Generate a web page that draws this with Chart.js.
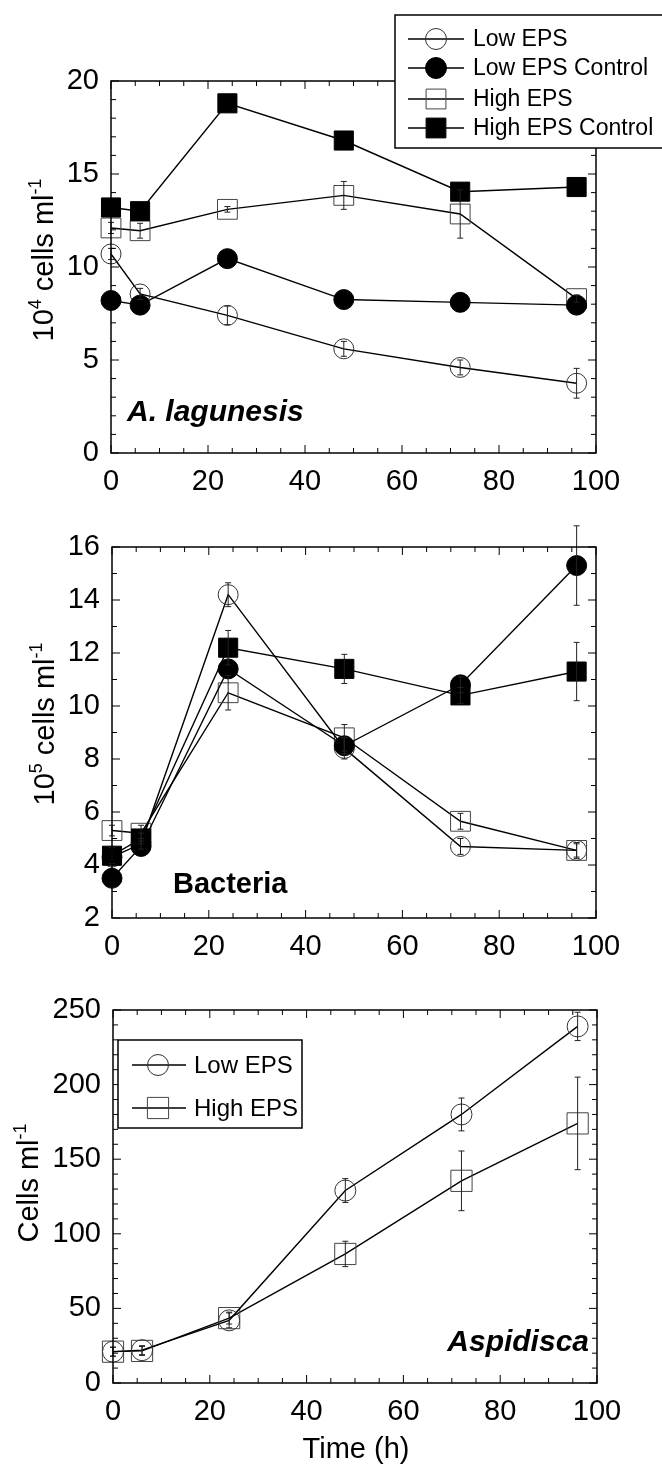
<!DOCTYPE html>
<html>
<head>
<meta charset="utf-8">
<script src="https://cdn.jsdelivr.net/npm/chart.js@4.4.1/dist/chart.umd.min.js"></script>
<style>
  html, body { margin: 0; padding: 0; background: #fff; }
  .panel { position: absolute; left: 0; width: 662px; }
</style>
</head>
<body>
<div class="panel" style="top:0"><canvas id="c1" width="662" height="500"></canvas></div>
<div class="panel" style="top:500px"><canvas id="c2" width="662" height="460"></canvas></div>
<div class="panel" style="top:960px"><canvas id="c3" width="662" height="505"></canvas></div>
<script>
// sampling times (h), shared by all three panels
const hours = [0, 6, 24, 48, 72, 96]

// A. lagunesis, 10^4 cells ml-1
const lagLowEps        = [10.7, 8.55, 7.4, 5.6, 4.6, 3.75]
const lagLowEpsErr     = [0.3, 0.3, 0.5, 0.4, 0.4, 0.8]
const lagLowEpsCtrl    = [8.2, 7.95, 10.45, 8.25, 8.1, 7.95]
const lagHighEps       = [12.1, 11.95, 13.1, 13.85, 12.85, 8.3]
const lagHighEpsErr    = [0.3, 0.4, 0.15, 0.75, 1.3, 0.2]
const lagHighEpsCtrl   = [13.2, 13.0, 18.8, 16.8, 14.05, 14.3]

// Bacteria, 10^5 cells ml-1
const bacLowEps        = [4.3, 4.8, 14.2, 8.4, 4.7, 4.55]
const bacLowEpsErr     = [null, 0.2, 0.45, 0.4, 0.3, 0.3]
const bacLowEpsCtrl    = [3.5, 4.7, 11.4, 8.5, 10.8, 15.3]
const bacLowEpsCtrlErr = [null, null, null, 0.3, 0.3, 1.5]
const bacHighEps       = [5.3, 5.2, 10.5, 8.8, 5.65, 4.55]
const bacHighEpsErr    = [0.2, 0.3, 0.65, 0.5, 0.3, 0.25]
const bacHighEpsCtrl   = [4.35, 5.0, 12.2, 11.4, 10.4, 11.3]
const bacHighEpsCtrlErr = [0.3, 0.2, 0.65, 0.55, 0.3, 1.1]

// Aspidisca, cells ml-1
const aspLowEps        = [21, 22, 42, 129, 180, 239]
const aspLowEpsErr     = [3, 3, 5, 8, 11, 9.5]
const aspHighEps       = [21, 21.5, 43.5, 86.5, 135.5, 174]
const aspHighEpsErr    = [3, 3, 4, 8.5, 20, 31]

const FONT = "'Liberation Sans', Arial, Helvetica, sans-serif"
Chart.defaults.font.family = FONT
Chart.defaults.color = '#000'

function xy(vals) { return vals.map((v, i) => ({ x: hours[i], y: v })) }

// marker styles
function openCircle(label, vals, err, r = 10) {
  return { label, data: xy(vals), errorBars: err, pointStyle: 'circle', pointRadius: r,
    pointBackgroundColor: 'rgba(0,0,0,0)', pointBorderColor: '#333', pointBorderWidth: 1 }
}
function fillCircle(label, vals, err, r = 10) {
  return { label, data: xy(vals), errorBars: err, pointStyle: 'circle', pointRadius: r,
    pointBackgroundColor: '#000', pointBorderColor: '#000', pointBorderWidth: 1 }
}
function openSquare(label, vals, err, r = 14) {
  return { label, data: xy(vals), errorBars: err, pointStyle: 'rect', pointRadius: r,
    pointBackgroundColor: 'rgba(0,0,0,0)', pointBorderColor: '#444', pointBorderWidth: 1 }
}
function fillSquare(label, vals, err, r = 13.5) {
  return { label, data: xy(vals), errorBars: err, pointStyle: 'rect', pointRadius: r,
    pointBackgroundColor: '#000', pointBorderColor: '#000', pointBorderWidth: 1 }
}

function line(ctx, x1, y1, x2, y2) {
  ctx.beginPath(); ctx.moveTo(x1, y1); ctx.lineTo(x2, y2); ctx.stroke()
}

// rotated y title with superscripts
function drawYTitle(ctx, t) {
  const big = `${t.size}px ${FONT}`
  const small = `${Math.round(t.size * 0.62)}px ${FONT}`
  let total = 0
  t.parts.forEach(p => { ctx.font = p.sup ? small : big; total += ctx.measureText(p.text).width })
  ctx.save()
  ctx.translate(t.x, t.y)
  ctx.rotate(-Math.PI / 2)
  ctx.fillStyle = '#000'
  ctx.textAlign = 'left'
  ctx.textBaseline = 'alphabetic'
  let pos = -total / 2
  t.parts.forEach(p => {
    ctx.font = p.sup ? small : big
    ctx.fillText(p.text, pos, p.sup ? -t.size * 0.42 : 0)
    pos += ctx.measureText(p.text).width
  })
  ctx.restore()
}

function drawLegend(chart, lg) {
  const ctx = chart.ctx
  ctx.save()
  ctx.fillStyle = '#fff'
  ctx.fillRect(lg.box[0], lg.box[1], lg.box[2] - lg.box[0], lg.box[3] - lg.box[1])
  ctx.strokeStyle = '#000'
  ctx.lineWidth = 1.5
  ctx.strokeRect(lg.box[0], lg.box[1], lg.box[2] - lg.box[0], lg.box[3] - lg.box[1])
  chart.data.datasets.forEach((ds, i) => {
    const y = lg.rows[i]
    ctx.strokeStyle = '#000'
    ctx.lineWidth = 1.3
    line(ctx, lg.line[0], y, lg.line[1], y)
    ctx.fillStyle = ds.pointBackgroundColor
    ctx.strokeStyle = ds.pointBorderColor
    ctx.lineWidth = ds.pointBorderWidth
    const r = ds.pointStyle === 'rect' ? lg.rectR : lg.circleR
    Chart.helpers.drawPoint(ctx, { pointStyle: ds.pointStyle, radius: r, rotation: 0, borderWidth: ds.pointBorderWidth }, lg.marker, y)
    ctx.fillStyle = '#000'
    ctx.font = `${lg.size}px ${FONT}`
    ctx.textAlign = 'left'
    ctx.textBaseline = 'middle'
    ctx.fillText(ds.label, lg.text, y + 1)
  })
  ctx.restore()
}

const decor = {
  id: 'decor',
  afterDatasetsDraw(chart) {
    // error bars
    const ctx = chart.ctx, ys = chart.scales.y
    ctx.save()
    ctx.strokeStyle = '#222'
    ctx.lineWidth = 1
    chart.data.datasets.forEach((ds, di) => {
      if (!ds.errorBars) return
      const meta = chart.getDatasetMeta(di)
      ds.errorBars.forEach((e, i) => {
        if (e == null) return
        const v = ds.data[i].y
        const x = meta.data[i].x
        const y1 = ys.getPixelForValue(v + e), y2 = ys.getPixelForValue(v - e)
        line(ctx, x, y1, x, y2)
        line(ctx, x - 3, y1, x + 3, y1)
        line(ctx, x - 3, y2, x + 3, y2)
      })
    })
    ctx.restore()
  },
  afterDraw(chart, args, o) {
    const ctx = chart.ctx, a = chart.chartArea
    const xs = chart.scales.x, ys = chart.scales.y
    ctx.save()
    ctx.strokeStyle = '#000'
    ctx.lineWidth = 1.5
    ctx.strokeRect(a.left, a.top, a.right - a.left, a.bottom - a.top)
    ctx.lineWidth = 1
    const isMajor = (v, m) => Math.abs(v / m - Math.round(v / m)) < 1e-6
    for (let v = xs.min; v <= xs.max + 1e-9; v += o.xMinor) {
      const px = xs.getPixelForValue(v), L = isMajor(v, o.xMajor) ? 8 : 5
      line(ctx, px, a.bottom, px, a.bottom - L)
      line(ctx, px, a.top, px, a.top + L)
    }
    for (let v = ys.min; v <= ys.max + 1e-9; v += o.yMinor) {
      const py = ys.getPixelForValue(v), L = isMajor(v - ys.min, o.yMajor) ? 8 : 5
      line(ctx, a.left, py, a.left + L, py)
      line(ctx, a.right, py, a.right - L, py)
    }
    drawYTitle(ctx, o.yTitle)
    const lb = o.label
    ctx.fillStyle = '#000'
    ctx.font = `${lb.style} ${lb.size}px ${FONT}`
    ctx.textAlign = lb.align
    ctx.textBaseline = 'middle'
    ctx.fillText(lb.text, lb.x, lb.y)
    if (o.xTitle) {
      ctx.font = `${o.xTitle.size}px ${FONT}`
      ctx.textAlign = 'center'
      ctx.fillText(o.xTitle.text, o.xTitle.x, o.xTitle.y)
    }
    ctx.restore()
    if (o.legend) drawLegend(chart, o.legend)
  }
}

function makePanel(id, p) {
  const canvas = document.getElementById(id)
  const H = canvas.height
  p.datasets.forEach(ds => {
    ds.borderColor = '#000'
    ds.borderWidth = 1.4
    ds.tension = 0
    ds.clip = false
    ds.fill = false
  })
  return new Chart(canvas, {
    type: 'line',
    data: { datasets: p.datasets },
    plugins: [decor],
    options: {
      responsive: false,
      animation: false,
      devicePixelRatio: 1,
      layout: { padding: { top: p.plot.top, right: 662 - p.plot.right, left: 0, bottom: 0 } },
      plugins: { legend: { display: false }, tooltip: { enabled: false }, decor: p.decor },
      scales: {
        x: {
          type: 'linear', min: 0, max: 100,
          ticks: { stepSize: 20, padding: 12, color: '#000', font: { size: 29 } },
          grid: { display: false, drawTicks: false },
          border: { display: false },
          afterFit: s => { s.height = H - p.plot.bottom }
        },
        y: {
          type: 'linear', min: p.yMin, max: p.yMax,
          ticks: { stepSize: p.yStep, padding: 12, color: '#000', font: { size: 29 } },
          grid: { display: false, drawTicks: false },
          border: { display: false },
          afterFit: s => { s.width = p.plot.left }
        }
      }
    }
  })
}

// top panel: legend rows follow dataset order (ctrl circle, ctrl square, open circle, open square)
makePanel('c1', {
  plot: { left: 111, right: 596, top: 81, bottom: 453 },
  yMin: 0, yMax: 20, yStep: 5,
  datasets: [
    fillCircle('Low EPS Control', lagLowEpsCtrl, null),
    fillSquare('High EPS Control', lagHighEpsCtrl, null),
    openCircle('Low EPS', lagLowEps, lagLowEpsErr),
    openSquare('High EPS', lagHighEps, lagHighEpsErr)
  ],
  decor: {
    xMinor: 5, xMajor: 20, yMinor: 1, yMajor: 5,
    yTitle: { x: 53, y: 260, size: 29, parts: [
      { text: '10' }, { text: '4', sup: true }, { text: ' cells ml' }, { text: '-1', sup: true }] },
    label: { text: 'A. lagunesis', style: 'italic bold', size: 30, align: 'left', x: 127, y: 413 },
    legend: { box: [395, 15, 664, 148], rows: [68, 128, 39, 99], line: [408, 464], marker: 436, text: 473,
      size: 23, circleR: 10.5, rectR: 14 }
  }
})

makePanel('c2', {
  plot: { left: 112, right: 596, top: 47, bottom: 418 },
  yMin: 2, yMax: 16, yStep: 2,
  datasets: [
    fillCircle('Low EPS Control', bacLowEpsCtrl, bacLowEpsCtrlErr),
    fillSquare('High EPS Control', bacHighEpsCtrl, bacHighEpsCtrlErr),
    openCircle('Low EPS', bacLowEps, bacLowEpsErr),
    openSquare('High EPS', bacHighEps, bacHighEpsErr)
  ],
  decor: {
    xMinor: 5, xMajor: 20, yMinor: 1, yMajor: 2,
    yTitle: { x: 54, y: 224, size: 29, parts: [
      { text: '10' }, { text: '5', sup: true }, { text: ' cells ml' }, { text: '-1', sup: true }] },
    label: { text: 'Bacteria', style: 'bold', size: 29, align: 'left', x: 173, y: 385 },
    legend: null
  }
})

makePanel('c3', {
  plot: { left: 113, right: 597, top: 50, bottom: 423 },
  yMin: 0, yMax: 250, yStep: 50,
  datasets: [
    openCircle('Low EPS', aspLowEps, aspLowEpsErr, 10.5),
    openSquare('High EPS', aspHighEps, aspHighEpsErr, 15)
  ],
  decor: {
    xMinor: 5, xMajor: 20, yMinor: 10, yMajor: 50,
    yTitle: { x: 38, y: 223, size: 29, parts: [{ text: 'Cells ml' }, { text: '-1', sup: true }] },
    label: { text: 'Aspidisca', style: 'italic bold', size: 30, align: 'right', x: 589, y: 383 },
    xTitle: { text: 'Time (h)', size: 29, x: 356, y: 490 },
    legend: { box: [118, 80, 302, 168], rows: [105, 148], line: [132, 186], marker: 158, text: 194,
      size: 24, circleR: 10.5, rectR: 15 }
  }
})
</script>
</body>
</html>
